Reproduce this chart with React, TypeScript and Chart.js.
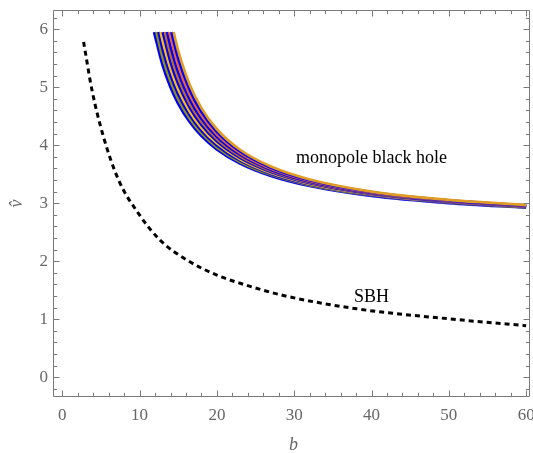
import React, { useEffect, useRef } from "react";
import { Chart, registerables } from "chart.js";

Chart.register(...registerables);

// ---- axes ----
const xTicks = [0, 10, 20, 30, 40, 50, 60];
const yTicks = [0, 1, 2, 3, 4, 5, 6];
const xMin = -1.2;
const xMax = 60.5;
const yMin = -0.34;
const yMax = 6.33;

// ---- SBH (dashed) ----
const sbhB = [2.76, 3.84, 5.34, 7.28, 9.87, 12.68, 16.13, 20, 23, 28.6, 38.1, 50.6, 60];
const sbhV = [5.78, 4.95, 4.14, 3.4, 2.82, 2.36, 2.02, 1.76, 1.62, 1.41, 1.18, 1.0, 0.89];

// ---- monopole black hole band (10 curves) ----
const bandTopV = 5.95;
const bandStartB = [11.89, 12.17, 12.45, 12.72, 13.0, 13.28, 13.56, 13.84, 14.12, 14.4];
const bandB = [13, 14, 15, 16.5, 18, 20, 23, 27, 32, 40, 50, 60];
const band0 = [5.375, 5.003, 4.719, 4.4, 4.164, 3.931, 3.687, 3.473, 3.3, 3.128, 3.004, 2.926];
const band1 = [5.501, 5.1, 4.795, 4.456, 4.207, 3.963, 3.71, 3.489, 3.311, 3.137, 3.01, 2.931];
const band2 = [5.639, 5.203, 4.876, 4.515, 4.252, 3.997, 3.733, 3.505, 3.322, 3.145, 3.016, 2.936];
const band3 = [5.789, 5.314, 4.962, 4.577, 4.3, 4.032, 3.757, 3.521, 3.334, 3.153, 3.022, 2.94];
const band4 = [null, 5.433, 5.054, 4.643, 4.349, 4.068, 3.782, 3.538, 3.345, 3.16, 3.027, 2.944];
const band5 = [null, 5.564, 5.153, 4.713, 4.403, 4.107, 3.809, 3.557, 3.358, 3.169, 3.033, 2.95];
const band6 = [null, 5.704, 5.258, 4.787, 4.457, 4.146, 3.836, 3.574, 3.371, 3.177, 3.039, 2.954];
const band7 = [null, null, 5.372, 4.865, 4.515, 4.187, 3.863, 3.593, 3.383, 3.185, 3.044, 2.958];
const band8 = [null, null, 5.494, 4.948, 4.575, 4.23, 3.892, 3.612, 3.396, 3.193, 3.05, 2.962];
const band9 = [null, null, 5.626, 5.036, 4.639, 4.275, 3.921, 3.631, 3.409, 3.201, 3.057, 2.968];
const bandCurves = [band0, band1, band2, band3, band4, band5, band6, band7, band8, band9];
const bandColors = [
  "#0000ff", "#929600", "#0000ff", "#ffbf00", "#0000ff",
  "#c56e1a", "#0000ff", "#eb6235", "#0000ff", "#e19c24",
];

// ---- text labels ----
const noteTexts = ["monopole black hole", "SBH"];
const noteB = [40.0, 40.0];
const noteV = [3.69, 1.3];

const frameColor = "#7a7a7a";
const labelColor = "#666666";
const serif = "'Liberation Serif', 'DejaVu Serif', serif";

const framePlugin = {
  id: "frameTicks",
  afterDraw(chart: any) {
    const { ctx, chartArea: a, scales } = chart;
    const xs = scales.x;
    const ys = scales.y;
    const L = Math.round(a.left) + 0.5;
    const R = Math.round(a.right) - 0.5;
    const T = Math.round(a.top) + 0.5;
    const B = Math.round(a.bottom) - 0.5;
    ctx.save();
    ctx.strokeStyle = frameColor;
    ctx.lineWidth = 1;
    ctx.beginPath();
    ctx.rect(L, T, R - L, B - T);
    ctx.stroke();

    const major = 6;
    const minor = 3.7;
    ctx.beginPath();
    // x ticks
    for (let i = 0; i <= 30; i++) {
      const v = i * 2;
      if (v < xMin || v > xMax) continue;
      const len = v % 10 === 0 ? major : minor;
      const px = Math.round(xs.getPixelForValue(v)) + 0.5;
      ctx.moveTo(px, B);
      ctx.lineTo(px, B - len);
      ctx.moveTo(px, T);
      ctx.lineTo(px, T + len);
    }
    // y ticks
    for (let i = -1; i <= 31; i++) {
      const v = i * 0.2;
      if (v < yMin || v > yMax) continue;
      const len = i % 5 === 0 ? major : minor;
      const py = Math.round(ys.getPixelForValue(v)) + 0.5;
      ctx.moveTo(L, py);
      ctx.lineTo(L + len, py);
      ctx.moveTo(R, py);
      ctx.lineTo(R - len, py);
    }
    ctx.stroke();

    // notes
    ctx.fillStyle = "#000";
    ctx.font = `18px ${serif}`;
    ctx.textAlign = "center";
    ctx.textBaseline = "alphabetic";
    noteTexts.forEach((t, i) => {
      ctx.fillText(t, xs.getPixelForValue(noteB[i]), ys.getPixelForValue(noteV[i]));
    });

    // axis titles
    ctx.fillStyle = labelColor;
    ctx.font = `italic 18px ${serif}`;
    ctx.textAlign = "center";
    ctx.fillText("b", (a.left + a.right) / 2 + 2, 450);
    ctx.save();
    ctx.translate(17, (a.top + a.bottom) / 2);
    ctx.rotate(-Math.PI / 2);
    ctx.textBaseline = "middle";
    ctx.fillText("v\u0302", 0, 0);
    ctx.restore();
    ctx.restore();
  },
};

export default function App() {
  const ref = useRef<HTMLCanvasElement | null>(null);
  useEffect(() => {
    if (!ref.current) return;
    const datasets: any[] = [];
    datasets.push({
      data: sbhB.map((b, i) => ({ x: b, y: sbhV[i] })),
      borderColor: "#000",
      borderWidth: 3,
      borderDash: [5, 4],
      pointRadius: 0,
      fill: false,
      cubicInterpolationMode: "monotone",
      order: 0,
    });
    bandCurves.forEach((vals, k) => {
      const pts: { x: number; y: number }[] = [{ x: bandStartB[k], y: bandTopV }];
      bandB.forEach((b, i) => {
        const v = vals[i];
        if (v !== null && v !== undefined) pts.push({ x: b, y: v });
      });
      datasets.push({
        data: pts,
        borderColor: bandColors[k],
        borderWidth: k === 0 ? 3 : 2.7,
        pointRadius: 0,
        fill: false,
        cubicInterpolationMode: "monotone",
        order: 10 - k,
      });
    });

    const tickFont = { family: serif, size: 17 };
    const chart = new Chart(ref.current, {
      type: "line",
      data: { datasets },
      plugins: [framePlugin],
      options: {
        animation: false,
        responsive: false,
        devicePixelRatio: 1,
        layout: { padding: { top: 10, right: 3, left: 0, bottom: 0 } },
        plugins: { legend: { display: false }, tooltip: { enabled: false } },
        scales: {
          x: {
            type: "linear",
            min: xMin,
            max: xMax,
            grid: { display: false, drawTicks: false },
            border: { display: false },
            ticks: { font: tickFont, color: labelColor, padding: 8, maxRotation: 0, autoSkip: false },
            afterBuildTicks: (s: any) => {
              s.ticks = xTicks.map((v) => ({ value: v }));
            },
            afterFit: (s: any) => {
              s.height = 56;
              s.paddingLeft = 0;
              s.paddingRight = 0;
            },
          },
          y: {
            type: "linear",
            min: yMin,
            max: yMax,
            grid: { display: false, drawTicks: false },
            border: { display: false },
            ticks: { font: tickFont, color: labelColor, padding: 5, autoSkip: false },
            afterBuildTicks: (s: any) => {
              s.ticks = yTicks.map((v) => ({ value: v }));
            },
            afterFit: (s: any) => {
              s.width = 53;
              s.paddingTop = 0;
              s.paddingBottom = 0;
            },
          },
        },
      } as any,
    });
    return () => chart.destroy();
  }, []);
  return (
    <div style={{ position: "absolute", left: 0, top: 0, width: 533, height: 453, background: "#fff" }}>
      <canvas ref={ref} width={533} height={453} style={{ width: 533, height: 453, display: "block" }} />
    </div>
  );
}
